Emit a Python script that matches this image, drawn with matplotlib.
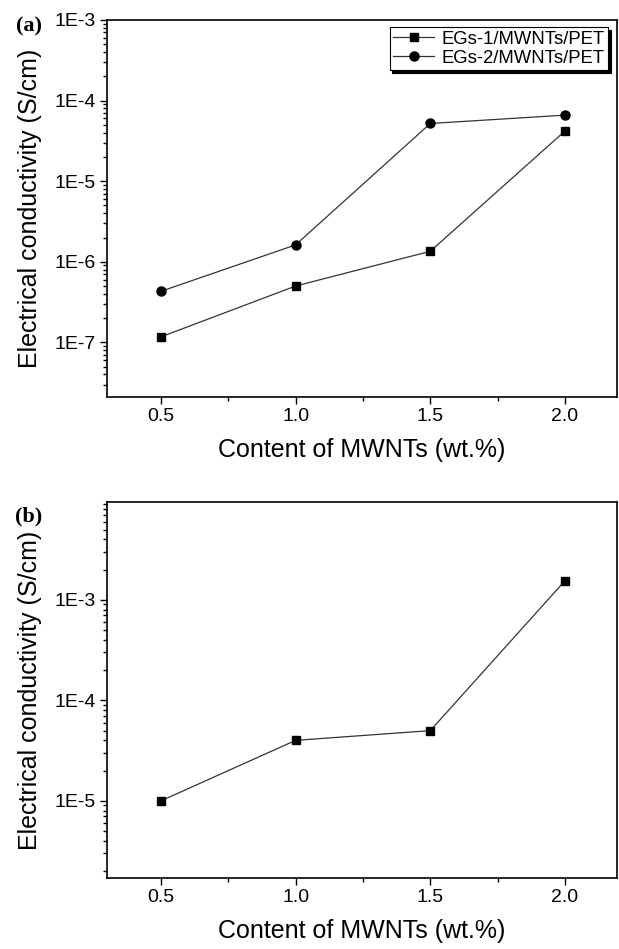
import numpy as np
import matplotlib
matplotlib.use("Agg")
import matplotlib.pyplot as plt
from matplotlib.ticker import LogLocator, FuncFormatter, MultipleLocator

plt.rcParams['font.family'] = ['Liberation Sans', 'DejaVu Sans']

# data
content = [0.5, 1.0, 1.5, 2.0]
egs1_a = [1.17e-7, 5.0e-7, 1.35e-6, 4.2e-5]
egs2_a = [4.3e-7, 1.62e-6, 5.2e-5, 6.6e-5]
series_b = [1.0e-5, 4.0e-5, 5.0e-5, 1.55e-3]
xticks = [0.5, 1.0, 1.5, 2.0]
legend_labels = ['EGs-1/MWNTs/PET', 'EGs-2/MWNTs/PET']

W, H = 619, 949
fig = plt.figure(figsize=(W / 100, H / 100), dpi=100)


def px_axes(left, top, right, bottom):
    return fig.add_axes([left / W, 1 - bottom / H, (right - left) / W, (bottom - top) / H])


def style(ax, ylim):
    ax.set_yscale('log')
    ax.set_xlim(0.3, 2.193)
    ax.set_ylim(*ylim)
    ax.set_xticks(xticks)
    ax.xaxis.set_minor_locator(MultipleLocator(0.25))
    ax.yaxis.set_major_locator(LogLocator(base=10))
    ax.yaxis.set_minor_locator(LogLocator(base=10, subs=np.arange(2, 10)))
    ax.yaxis.set_minor_formatter(FuncFormatter(lambda v, p: ''))
    ax.yaxis.set_major_formatter(FuncFormatter(lambda v, p: '1E%d' % round(np.log10(v))))
    ax.xaxis.set_major_formatter(FuncFormatter(lambda v, p: '%.1f' % v))
    ax.tick_params(which='both', direction='out', top=False, right=False, width=1.0)
    ax.tick_params(which='major', length=5, labelsize=14, pad=3)
    ax.tick_params(which='minor', length=3)
    for s in ax.spines.values():
        s.set_linewidth(1.2)
    ax.set_xlabel('Content of MWNTs (wt.%)', fontsize=18, labelpad=9)
    ax.set_ylabel('Electrical conductivity (S/cm)', fontsize=18, labelpad=9)


line_kw = dict(color='#333333', lw=0.9, mfc='black', mec='black')

# panel (a)
ax1 = px_axes(107, 20, 617, 397)
ax1.plot(content, egs1_a, marker='s', ms=6, label=legend_labels[0], **line_kw)
ax1.plot(content, egs2_a, marker='o', ms=6.5, label=legend_labels[1], **line_kw)
style(ax1, (2.1e-8, 1e-3))
leg = ax1.legend(loc='upper right', bbox_to_anchor=(0.982, 0.981), fontsize=13.3,
                 frameon=True, fancybox=False, shadow={'color': 'black', 'alpha': 1},
                 handlelength=2.2, handletextpad=0.38, borderpad=0.2,
                 labelspacing=0.1, borderaxespad=0)
leg.get_frame().set_edgecolor('black')
leg.get_frame().set_linewidth(0.8)

# panel (b)
ax2 = px_axes(107, 502, 617, 878)
ax2.plot(content, series_b, marker='s', ms=6, **line_kw)
style(ax2, (1.71e-6, 9.4e-3))

fig.text(29 / W, 1 - 26 / H, '(a)', family=['Liberation Serif', 'DejaVu Serif'],
         fontweight='bold', fontsize=16, ha='center', va='center')
fig.text(29 / W, 1 - 516 / H, '(b)', family=['Liberation Serif', 'DejaVu Serif'],
         fontweight='bold', fontsize=16, ha='center', va='center')

fig.savefig('out.png', dpi=100)
